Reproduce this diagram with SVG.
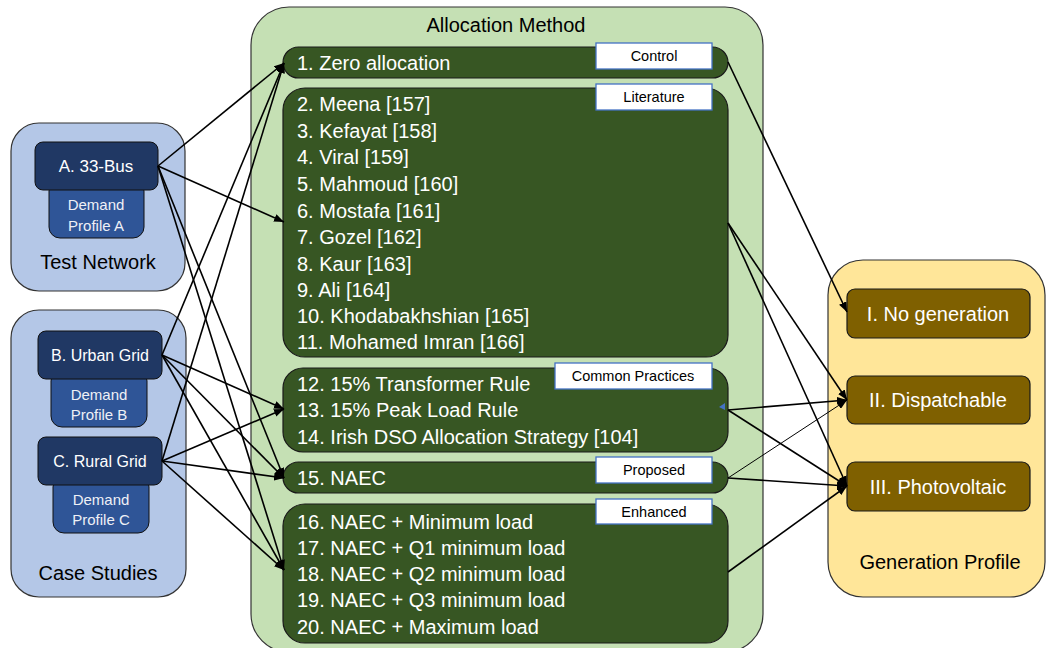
<svg xmlns="http://www.w3.org/2000/svg" width="1046" height="648" viewBox="0 0 1046 648">
<defs>
<marker id="arr" markerUnits="userSpaceOnUse" markerWidth="10" markerHeight="8" refX="10" refY="4" orient="auto">
<path d="M0,0 L10,4 L0,8 z" fill="#000"/>
</marker>
<style>
text{font-family:"Liberation Sans",Arial,sans-serif;}
.cont{stroke:#333;stroke-width:1.2;}
.blue{fill:#B4C7E7;}
.navy{fill:#203864;stroke:#111;stroke-width:1;}
.dp{fill:#2F5597;stroke:#111;stroke-width:1;}
.green{fill:#C5E0B4;}
.dg{fill:#375623;stroke:#1a1a1a;stroke-width:1.2;}
.gold{fill:#FFE699;}
.brown{fill:#7F6000;stroke:#1a1a1a;stroke-width:1.2;}
.lab{fill:#fff;stroke:#4472C4;stroke-width:1.3;}
.wt{fill:#fff;font-size:20px;}
.lt{fill:#000;font-size:14.5px;text-anchor:middle;}
.ct{fill:#000;font-size:20px;text-anchor:middle;}
.nt{fill:#fff;font-size:16px;text-anchor:middle;}
.dt{fill:#EEF0F6;font-size:15px;text-anchor:middle;}
.gt{fill:#fff;font-size:20px;text-anchor:middle;}
.ln{stroke:#000;stroke-width:1.6;fill:none;marker-end:url(#arr);}
.thin{stroke-width:1;}
</style>
</defs>

<g id="test-network">
<rect class="cont blue" x="11" y="123" width="174" height="168" rx="28"/>
<text class="ct" x="98" y="269">Test Network</text>
</g>
<g id="demand-a">
<rect class="dp" x="49" y="180" width="95" height="58" rx="11"/>
<text class="dt" x="96" y="210">Demand</text>
<text class="dt" x="96" y="231">Profile A</text>
</g>
<g id="node-a">
<rect class="navy" x="35" y="142" width="123" height="48" rx="8"/>
<text class="nt" x="96" y="172" style="font-size:17px">A. 33-Bus</text>
</g>

<g id="case-studies">
<rect class="cont blue" x="11" y="310" width="175" height="287" rx="28"/>
<text class="ct" x="98" y="580">Case Studies</text>
</g>
<g id="demand-b">
<rect class="dp" x="51" y="370" width="96" height="57" rx="11"/>
<text class="dt" x="99" y="400">Demand</text>
<text class="dt" x="99" y="420">Profile B</text>
</g>
<g id="node-b">
<rect class="navy" x="38" y="331" width="124" height="48" rx="8"/>
<text class="nt" x="100" y="361">B. Urban Grid</text>
</g>
<g id="demand-c">
<rect class="dp" x="53" y="476" width="96" height="57" rx="11"/>
<text class="dt" x="101" y="505">Demand</text>
<text class="dt" x="101" y="525">Profile C</text>
</g>
<g id="node-c">
<rect class="navy" x="38" y="437" width="124" height="48" rx="8"/>
<text class="nt" x="100" y="467">C. Rural Grid</text>
</g>

<g id="allocation-method">
<rect class="cont green" x="251" y="7" width="512" height="645" rx="38"/>
<text class="ct" x="506" y="32">Allocation Method</text>
</g>
<g id="m-control">
<rect class="dg" x="283" y="47" width="445" height="31" rx="15.5"/>
<text class="wt" x="297" y="70">1. Zero allocation</text>
<rect class="lab" x="596" y="43" width="116" height="26"/>
<text class="lt" x="654" y="61">Control</text>
</g>
<g id="m-literature">
<rect class="dg" x="283" y="88" width="445" height="269" rx="22"/>
<text class="wt" x="297" y="111">2. Meena [157]</text>
<text class="wt" x="297" y="138">3. Kefayat [158]</text>
<text class="wt" x="297" y="164">4. Viral [159]</text>
<text class="wt" x="297" y="191">5. Mahmoud [160]</text>
<text class="wt" x="297" y="218">6. Mostafa [161]</text>
<text class="wt" x="297" y="244">7. Gozel [162]</text>
<text class="wt" x="297" y="271">8. Kaur [163]</text>
<text class="wt" x="297" y="297">9. Ali [164]</text>
<text class="wt" x="297" y="323">10. Khodabakhshian [165]</text>
<text class="wt" x="297" y="349">11. Mohamed Imran [166]</text>
<rect class="lab" x="596" y="84" width="116" height="26"/>
<text class="lt" x="654" y="102">Literature</text>
</g>
<g id="m-common">
<rect class="dg" x="283" y="368" width="445" height="84" rx="20"/>
<text class="wt" x="297" y="391">12. 15% Transformer Rule</text>
<text class="wt" x="297" y="417">13. 15% Peak Load Rule</text>
<text class="wt" x="297" y="444">14. Irish DSO Allocation Strategy [104]</text>
<rect class="lab" x="555" y="363" width="157" height="26"/>
<text class="lt" x="633" y="381">Common Practices</text>
<polygon points="719,407 725,403 725,410" fill="#4472C4"/>
</g>
<g id="m-proposed">
<rect class="dg" x="283" y="462" width="445" height="31" rx="15.5"/>
<text class="wt" x="297" y="485">15. NAEC</text>
<rect class="lab" x="596" y="457" width="116" height="26"/>
<text class="lt" x="654" y="475">Proposed</text>
</g>
<g id="m-enhanced">
<rect class="dg" x="283" y="504" width="445" height="139" rx="22"/>
<text class="wt" x="297" y="529">16. NAEC + Minimum load</text>
<text class="wt" x="297" y="555">17. NAEC + Q1 minimum load</text>
<text class="wt" x="297" y="581">18. NAEC + Q2 minimum load</text>
<text class="wt" x="297" y="607">19. NAEC + Q3 minimum load</text>
<text class="wt" x="297" y="634">20. NAEC + Maximum load</text>
<rect class="lab" x="596" y="499" width="116" height="25"/>
<text class="lt" x="654" y="517">Enhanced</text>
</g>

<g id="generation-profile">
<rect class="cont gold" x="828" y="260" width="217" height="337" rx="35"/>
<text class="ct" x="940" y="569">Generation Profile</text>
</g>
<g id="g-none">
<rect class="brown" x="847" y="289" width="183" height="49" rx="8"/>
<text class="gt" x="938" y="321">I. No generation</text>
</g>
<g id="g-dispatch">
<rect class="brown" x="847" y="376" width="183" height="48" rx="8"/>
<text class="gt" x="938" y="407">II. Dispatchable</text>
</g>
<g id="g-pv">
<rect class="brown" x="847" y="462" width="183" height="49" rx="8"/>
<text class="gt" x="938" y="494">III. Photovoltaic</text>
</g>

<g id="connectors">
<line class="ln" x1="158" y1="166" x2="284" y2="63"/>
<line class="ln" x1="158" y1="166" x2="284" y2="222"/>
<line class="ln" x1="158" y1="166" x2="284" y2="478"/>
<line class="ln" x1="158" y1="166" x2="284" y2="570"/>
<line class="ln" x1="162" y1="355" x2="284" y2="63"/>
<line class="ln" x1="162" y1="355" x2="284" y2="409"/>
<line class="ln" x1="162" y1="355" x2="284" y2="478"/>
<line class="ln" x1="162" y1="355" x2="284" y2="570"/>
<line class="ln" x1="162" y1="461" x2="284" y2="63"/>
<line class="ln" x1="162" y1="461" x2="284" y2="409"/>
<line class="ln" x1="162" y1="461" x2="284" y2="478"/>
<line class="ln" x1="162" y1="461" x2="284" y2="570"/>
<line class="ln" x1="728" y1="62" x2="847" y2="312"/>
<line class="ln" x1="728" y1="223" x2="847" y2="400"/>
<line class="ln" x1="728" y1="223" x2="847" y2="486"/>
<line class="ln" x1="728" y1="410" x2="847" y2="400"/>
<line class="ln" x1="728" y1="410" x2="847" y2="486"/>
<line class="ln thin" x1="728" y1="478" x2="847" y2="400"/>
<line class="ln" x1="728" y1="478" x2="847" y2="486"/>
<line class="ln" x1="728" y1="572" x2="847" y2="486"/>
</g>
</svg>
